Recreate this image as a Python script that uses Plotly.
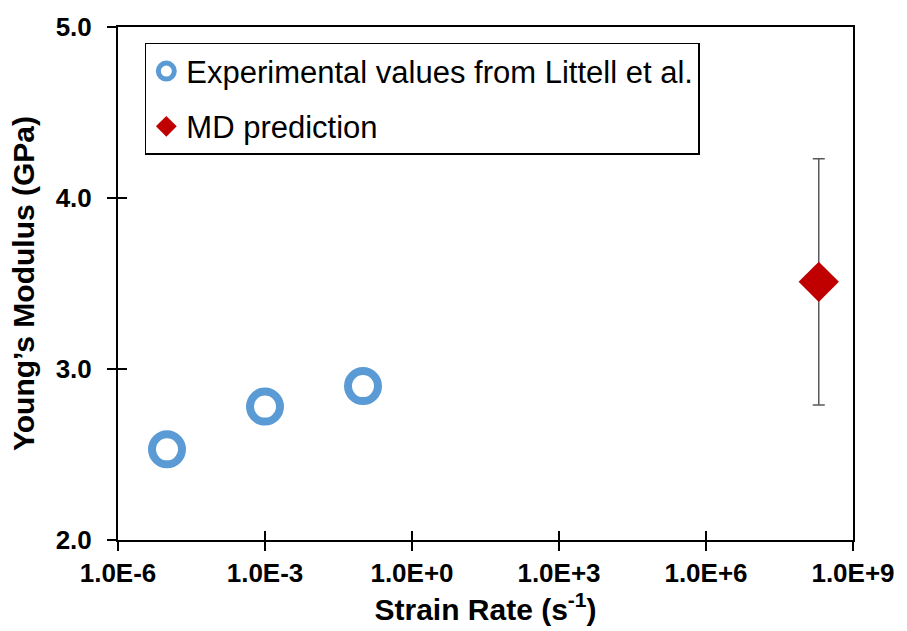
import plotly.graph_objects as go

# Data
exp_rate = [1e-5, 1e-3, 1e-1]
exp_modulus = [2.53, 2.78, 2.90]
md_rate = [2.0e8]
md_modulus = [3.51]
md_err = [0.72]

xtick_vals = [1e-6, 1e-3, 1e0, 1e3, 1e6, 1e9]
xtick_text = ["1.0E-6", "1.0E-3", "1.0E+0", "1.0E+3", "1.0E+6", "1.0E+9"]
ytick_vals = [2.0, 3.0, 4.0, 5.0]

FONT = "Liberation Sans, Arial, sans-serif"
BLUE = "#5B9BD5"
RED = "#C00000"

fig = go.Figure()
fig.add_trace(go.Scatter(
    x=exp_rate, y=exp_modulus, mode="markers",
    name="Experimental values from Littell et al.",
    legendgroup="a",
    marker=dict(symbol="circle-open", size=30, color=BLUE, line=dict(width=8, color=BLUE)),
))
fig.add_trace(go.Scatter(
    x=md_rate, y=md_modulus, mode="markers",
    name="MD prediction",
    legendgroup="b",
    marker=dict(symbol="diamond", size=31, color=RED),
    error_y=dict(type="data", array=md_err, visible=True, color="#595959", thickness=1.5, width=6),
))
# invisible trace on overlay axes (for inside half of crossing ticks)
fig.add_trace(go.Scatter(
    x=exp_rate, y=exp_modulus, xaxis="x2", yaxis="y2", mode="markers",
    marker=dict(opacity=0), showlegend=False, hoverinfo="skip",
))

tickfont = dict(family=FONT, size=26, color="black", weight="bold")
fig.update_layout(
    width=907, height=631,
    margin=dict(l=118, r=50, t=26, b=91),
    plot_bgcolor="white", paper_bgcolor="white",
    showlegend=True,
    xaxis=dict(
        type="log", range=[-6, 9],
        tickvals=xtick_vals, ticktext=xtick_text,
        ticks="outside", ticklen=9, tickwidth=2, tickcolor="black",
        showline=True, linecolor="black", linewidth=2, mirror=True,
        showgrid=False, zeroline=False,
        tickfont=tickfont,
        title=dict(text="Strain Rate (s<sup>-1</sup>)", font=dict(family=FONT, size=30, color="black", weight="bold"), standoff=6),
    ),
    yaxis=dict(
        range=[2, 5], tickvals=ytick_vals, tickformat=".1f",
        ticks="outside", ticklen=9, tickwidth=2, tickcolor="black",
        showline=True, linecolor="black", linewidth=2, mirror=True,
        showgrid=False, zeroline=False,
        tickfont=tickfont, ticklabelstandoff=10,
        title=dict(text="Young’s Modulus (GPa)", font=dict(family=FONT, size=30, color="black", weight="bold"), standoff=12),
    ),
    xaxis2=dict(
        type="log", range=[-6, 9], overlaying="x", anchor="y2", side="bottom",
        tickvals=xtick_vals, ticks="inside", ticklen=9, tickwidth=2, tickcolor="black",
        showticklabels=False, showgrid=False, zeroline=False, showline=False,
    ),
    yaxis2=dict(
        range=[2, 5], overlaying="y", anchor="x2", side="left",
        tickvals=ytick_vals, ticks="inside", ticklen=9, tickwidth=2, tickcolor="black",
        showticklabels=False, showgrid=False, zeroline=False, showline=False,
    ),
    legend=dict(
        x=0.0365, y=0.969, xanchor="left", yanchor="top",
        bgcolor="white", bordercolor="black", borderwidth=1.5,
        font=dict(family=FONT, size=31, color="black"),
        traceorder="grouped", tracegroupgap=12,
        itemwidth=30,
    ),
)

fig.write_html("out.html")
